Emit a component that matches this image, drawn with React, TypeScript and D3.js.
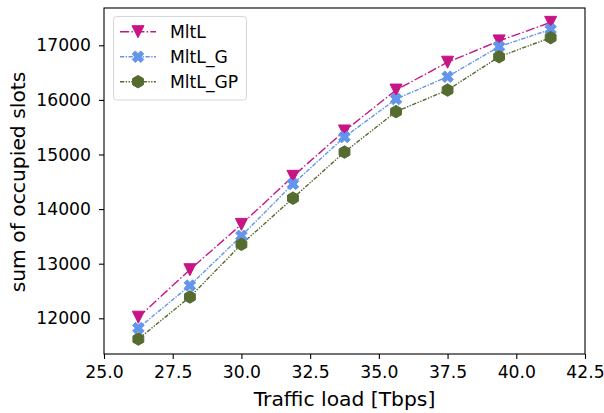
import * as d3 from "d3";
import {useEffect, useRef} from "react";

// traffic loads (Tbps)
const loads = [26.25, 28.125, 30, 31.875, 33.75, 35.625, 37.5, 39.375, 41.25];

const mltl = [12020, 12890, 13720, 14600, 15430, 16180, 16690, 17080, 17420];
const mltlG = [11820, 12600, 13510, 14460, 15320, 16015, 16425, 16975, 17290];
const mltlGP = [11620, 12390, 13355, 14200, 15045, 15785, 16180, 16790, 17140];

const xTicks = [25.0, 27.5, 30.0, 32.5, 35.0, 37.5, 40.0, 42.5];
const yTicks = [12000, 13000, 14000, 15000, 16000, 17000];

const seriesNames = ["MltL", "MltL_G", "MltL_GP"];

const FONT = "DejaVu Sans, Liberation Sans, sans-serif";
const TICK_FS = 17.2;
const LABEL_FS = 20.3;

// marker paths centred on 0,0
const triDown = (s: number) => `M${-s / 2},${-s / 2}L${s / 2},${-s / 2}L0,${s / 2}Z`;
const xFilled = (s: number) => {
    const r = s / 2, t = r * 0.36;
    const pts = [[t, r], [t, t], [r, t], [r, -t], [t, -t], [t, -r], [-t, -r], [-t, -t], [-r, -t], [-r, t], [-t, t], [-t, r]];
    const c = Math.cos(Math.PI / 4), sn = Math.sin(Math.PI / 4);
    return "M" + pts.map(([x, y]) => `${x * c - y * sn},${x * sn + y * c}`).join("L") + "Z";
};
const hexagon = (s: number) => {
    const r = s / 2;
    const pts = d3.range(6).map(i => {
        const a = -Math.PI / 2 + i * Math.PI / 3;
        return `${r * Math.cos(a)},${r * Math.sin(a)}`;
    });
    return "M" + pts.join("L") + "Z";
};

const styles = [
    {color: "#c71585", dash: "9.2,2.3,1.4,2.3", marker: triDown(12)},
    {color: "#6495ed", dash: "4.3,1.4,1.4,1.4", marker: xFilled(12)},
    {color: "#556b2f", dash: "4.3,1.4,1.4,1.4,1.4,1.4", marker: hexagon(12.5)},
];

const App = () => {
    const ref = useRef<SVGSVGElement | null>(null);

    useEffect(() => {
        document.body.style.margin = "0";
        const svg = d3.select(ref.current);
        svg.selectAll("*").remove();

        const left = 104, right = 585, top = 8, bottom = 354;

        const x = d3.scaleLinear().domain([25, 42.5]).range([left, right]);
        const y = d3.scaleLinear().domain([11346, 17683]).range([bottom, top]);

        // x axis
        const gx = svg.append("g")
            .attr("transform", `translate(0, ${bottom})`)
            .call(d3.axisBottom(x).tickValues(xTicks).tickFormat(d3.format(".1f")).tickSize(5).tickPadding(7).tickSizeOuter(0));
        gx.select(".domain").remove();
        gx.selectAll("line").attr("stroke", "#000").attr("stroke-width", 1.1);
        gx.selectAll("text").attr("font-size", TICK_FS).attr("font-family", FONT).attr("fill", "#000");

        // y axis
        const gy = svg.append("g")
            .attr("transform", `translate(${left}, 0)`)
            .call(d3.axisLeft(y).tickValues(yTicks).tickFormat(d3.format("d")).tickSize(5).tickPadding(8).tickSizeOuter(0));
        gy.select(".domain").remove();
        gy.selectAll("line").attr("stroke", "#000").attr("stroke-width", 1.1);
        gy.selectAll("text").attr("font-size", TICK_FS).attr("font-family", FONT).attr("fill", "#000");

        // series
        const data = [mltl, mltlG, mltlGP];
        const line = d3.line<number>()
            .x((d, i) => x(loads[i]))
            .y(d => y(d));

        data.forEach((vals, k) => {
            const st = styles[k];
            svg.append("path")
                .attr("d", line(vals))
                .attr("fill", "none")
                .attr("stroke", st.color)
                .attr("stroke-width", 1.4)
                .attr("stroke-dasharray", st.dash);
        });
        data.forEach((vals, k) => {
            const st = styles[k];
            svg.append("g")
                .selectAll("path")
                .data(vals)
                .join("path")
                .attr("transform", (d, i) => `translate(${x(loads[i])}, ${y(d)})`)
                .attr("d", st.marker)
                .attr("fill", st.color)
                .attr("stroke", st.color)
                .attr("stroke-width", 1);
        });

        // frame
        svg.append("rect")
            .attr("x", left).attr("y", top)
            .attr("width", right - left).attr("height", bottom - top)
            .attr("fill", "none").attr("stroke", "#000").attr("stroke-width", 1.1);

        // axis labels
        svg.append("text")
            .attr("x", (left + right) / 2).attr("y", 406)
            .attr("text-anchor", "middle")
            .attr("font-size", LABEL_FS).attr("font-family", FONT)
            .text("Traffic load [Tbps]");
        svg.append("text")
            .attr("transform", `translate(25, ${(top + bottom) / 2 + 1}) rotate(-90)`)
            .attr("text-anchor", "middle")
            .attr("font-size", LABEL_FS).attr("font-family", FONT)
            .text("sum of occupied slots");

        // legend
        const lg = svg.append("g");
        lg.append("rect")
            .attr("x", 113.5).attr("y", 16.5).attr("width", 133).attr("height", 83.5)
            .attr("rx", 3).attr("fill", "#fff").attr("fill-opacity", 0.8)
            .attr("stroke", "#d6d6d6").attr("stroke-width", 1);
        seriesNames.forEach((name, k) => {
            const st = styles[k];
            const ry = 31.7 + k * 25;
            lg.append("line")
                .attr("x1", 120).attr("x2", 156).attr("y1", ry).attr("y2", ry)
                .attr("stroke", st.color).attr("stroke-width", 1.4)
                .attr("stroke-dasharray", st.dash);
            lg.append("path")
                .attr("transform", `translate(138, ${ry})`)
                .attr("d", st.marker)
                .attr("fill", st.color).attr("stroke", st.color).attr("stroke-width", 1);
            lg.append("text")
                .attr("x", 170).attr("y", ry).attr("dy", "0.36em")
                .attr("font-size", TICK_FS).attr("font-family", FONT)
                .text(name);
        });
    }, []);

    return (
        <div style={{position: "absolute", left: 0, top: 0}}>
            <svg ref={ref} width={604} height={413} style={{display: "block", background: "#fff"}}/>
        </div>
    );
};

export default App;
